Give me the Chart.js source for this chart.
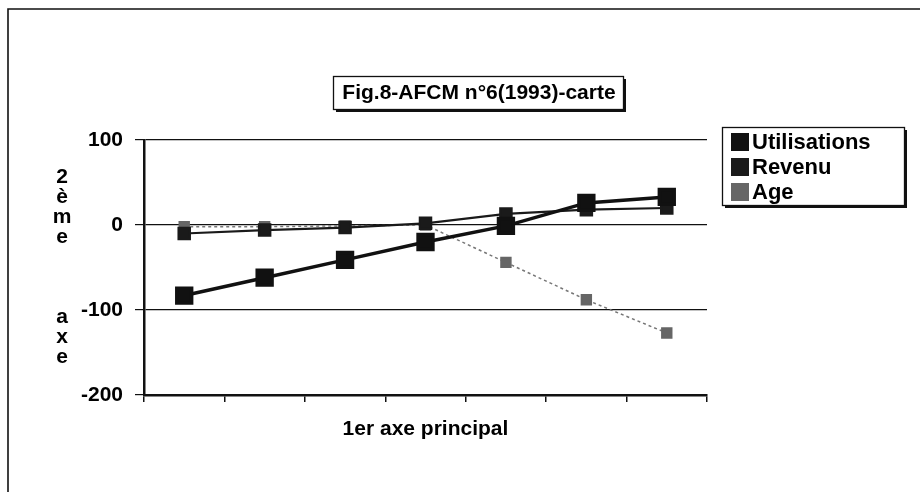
<!DOCTYPE html>
<html>
<head>
<meta charset="utf-8">
<script src="https://cdn.jsdelivr.net/npm/chart.js@4"></script>
<style>
  html, body { margin: 0; padding: 0; background: #fff; }
  canvas { display: block; }
</style>
</head>
<body>
<canvas id="chart" width="920" height="492"></canvas>
<script>
// Seven classes along the first principal axis
const categories = ['1', '2', '3', '4', '5', '6', '7'];

// Coordinates on the second axis for each variable
const utilisations = [-83, -62, -41, -20, -1, 26, 33];
const revenu = [-10, -6, -3, 2, 13, 18, 20];
const age = [-2, -2, -1, 0, -44, -88, -127];

// Vertical axis ticks
const yTicks = [-200, -100, 0, 100];

const chartTitle = 'Fig.8-AFCM n°6(1993)-carte';
const xTitle = '1er axe principal';
const yTitleLetters = ['2', 'è', 'm', 'e', '', '', '', 'a', 'x', 'e'];

const FONT = '"Liberation Sans", Arial, Helvetica, sans-serif';

// Boxed title, boxed legend, stacked vertical axis title and page frame
const decorations = {
  id: 'decorations',
  beforeDraw(chart) {
    const ctx = chart.ctx;
    ctx.save();
    ctx.fillStyle = '#fff';
    ctx.fillRect(0, 0, chart.width, chart.height);
    ctx.strokeStyle = '#111';
    ctx.lineWidth = 1.6;
    ctx.beginPath();
    ctx.moveTo(8, 492);
    ctx.lineTo(8, 9);
    ctx.lineTo(920, 9);
    ctx.stroke();
    ctx.restore();
  },
  afterDraw(chart) {
    const ctx = chart.ctx;
    ctx.save();

    const shadowBox = (x, y, w, h) => {
      ctx.fillStyle = '#111';
      ctx.fillRect(x + 3, y + 3, w, h);
      ctx.fillStyle = '#fff';
      ctx.fillRect(x, y, w, h);
      ctx.strokeStyle = '#111';
      ctx.lineWidth = 1.3;
      ctx.strokeRect(x + 0.5, y + 0.5, w, h);
    };

    // Title
    shadowBox(333, 76, 290, 33);
    ctx.fillStyle = '#000';
    ctx.font = 'bold 21px ' + FONT;
    ctx.textAlign = 'center';
    ctx.textBaseline = 'middle';
    ctx.fillText(chartTitle, 479, 93);

    // Legend
    shadowBox(722, 127, 182, 78);
    ctx.font = 'bold 22px ' + FONT;
    ctx.textAlign = 'left';
    chart.data.datasets.forEach((ds, i) => {
      const cy = 142 + i * 25;
      ctx.fillStyle = ds.pointBackgroundColor;
      ctx.fillRect(731, cy - 9, 18, 18);
      ctx.fillStyle = '#000';
      ctx.fillText(ds.label, 752, cy + 1);
    });

    // Vertical axis title, one letter per line
    ctx.font = 'bold 21px ' + FONT;
    ctx.textAlign = 'center';
    yTitleLetters.forEach((ch, i) => {
      if (ch) ctx.fillText(ch, 62, 177 + i * 20);
    });
    ctx.restore();
  }
};

new Chart(document.getElementById('chart'), {
  type: 'line',
  data: {
    labels: categories,
    datasets: [
      {
        label: 'Utilisations',
        data: utilisations,
        borderColor: '#111',
        backgroundColor: '#111',
        pointBackgroundColor: '#111',
        pointBorderColor: '#111',
        borderWidth: 3.5,
        pointStyle: 'rect',
        pointRadius: 10.5,
        pointHoverRadius: 10.5,
        tension: 0
      },
      {
        label: 'Revenu',
        data: revenu,
        borderColor: '#1a1a1a',
        backgroundColor: '#1a1a1a',
        pointBackgroundColor: '#1a1a1a',
        pointBorderColor: '#1a1a1a',
        borderWidth: 2.2,
        pointStyle: 'rect',
        pointRadius: 8,
        pointHoverRadius: 8,
        tension: 0
      },
      {
        label: 'Age',
        data: age,
        borderColor: '#777',
        backgroundColor: '#666',
        pointBackgroundColor: '#666',
        pointBorderColor: '#666',
        borderWidth: 1.5,
        borderDash: [3, 3],
        pointStyle: 'rect',
        pointRadius: 7,
        pointHoverRadius: 7,
        tension: 0
      }
    ]
  },
  options: {
    responsive: false,
    animation: false,
    devicePixelRatio: 1,
    layout: { padding: { top: 140, right: 213, bottom: 37, left: 0 } },
    plugins: {
      legend: { display: false },
      title: { display: false },
      tooltip: { enabled: false }
    },
    scales: {
      x: {
        type: 'category',
        offset: true,
        grid: {
          offset: true,
          drawOnChartArea: false,
          drawTicks: true,
          tickLength: 7,
          color: '#111',
          lineWidth: 1.5
        },
        border: { display: true, color: '#111', width: 2.5 },
        ticks: { display: false },
        title: {
          display: true,
          text: xTitle,
          color: '#000',
          font: { family: FONT, size: 21, weight: 'bold' },
          padding: { top: 0, bottom: 13 }
        },
        afterFit(scale) { scale.height = 60; }
      },
      y: {
        min: -200,
        max: 100,
        afterBuildTicks(scale) {
          scale.ticks = yTicks.map(v => ({ value: v }));
        },
        grid: {
          color: '#111',
          lineWidth: 1.2,
          drawTicks: true,
          tickLength: 9
        },
        border: { display: true, color: '#111', width: 2.5 },
        ticks: {
          color: '#000',
          padding: 12,
          font: { family: FONT, size: 21, weight: 'bold' }
        },
        afterFit(scale) { scale.width = 144; }
      }
    }
  },
  plugins: [decorations]
});
</script>
</body>
</html>
